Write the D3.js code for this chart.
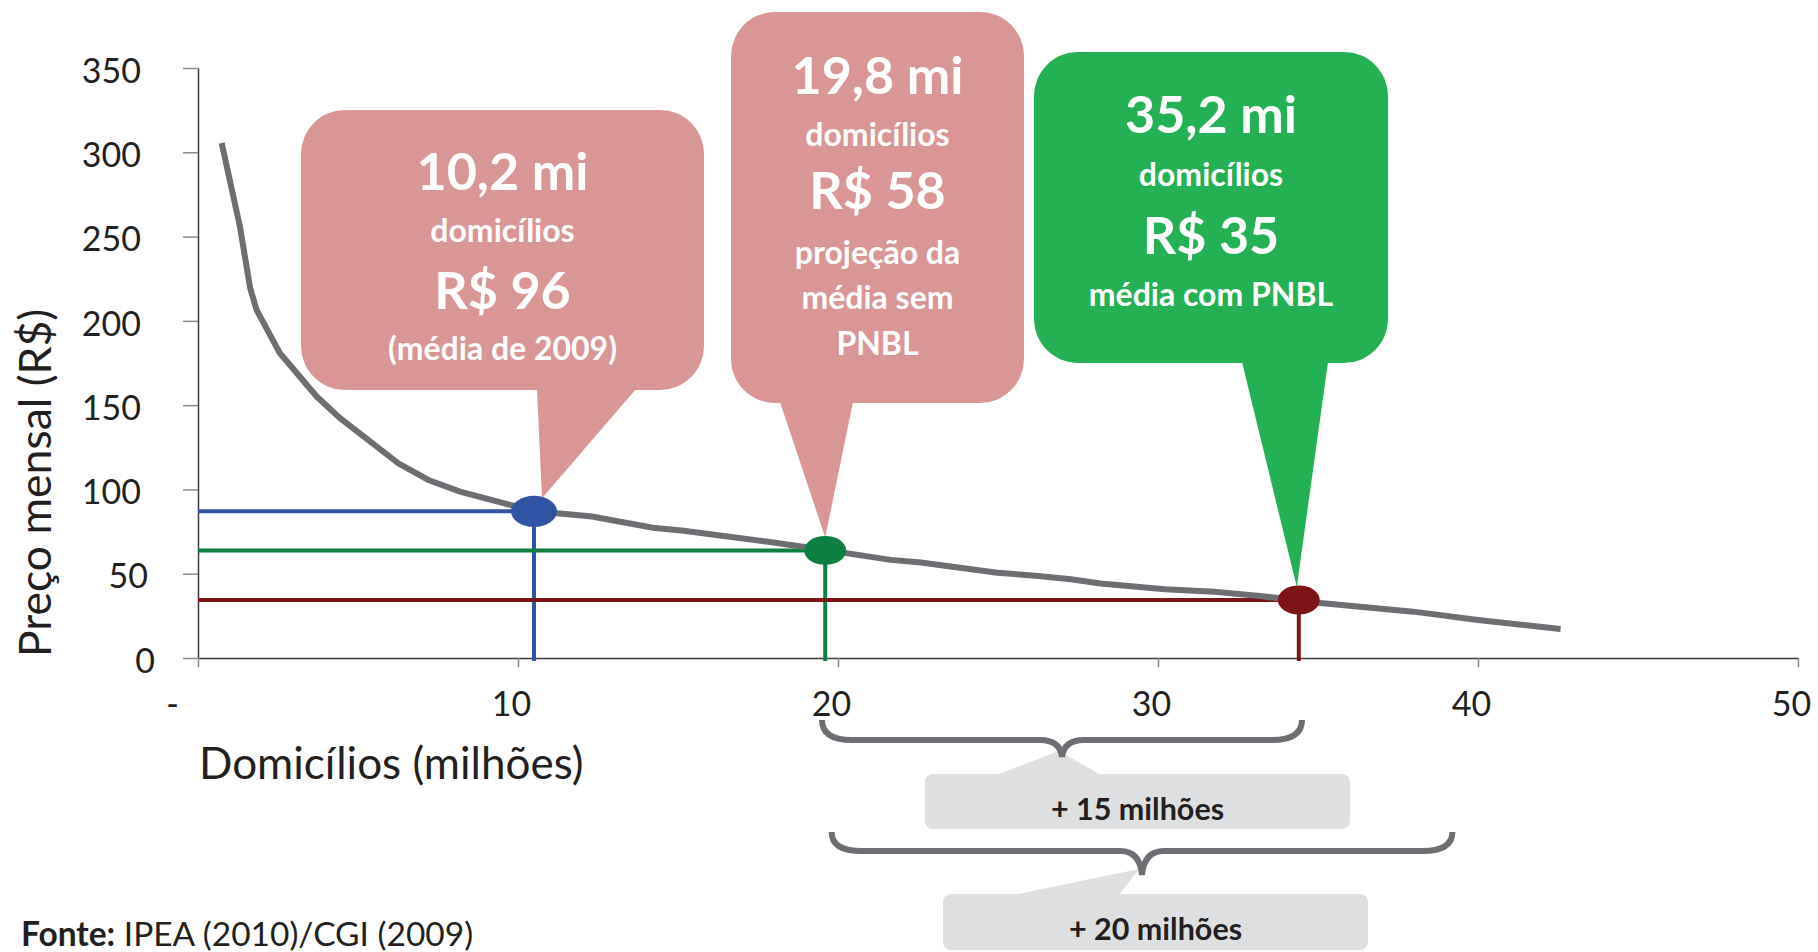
<!DOCTYPE html>
<html>
<head>
<meta charset="utf-8">
<script src="https://cdn.jsdelivr.net/npm/d3@7"></script>
<style>
  body { margin: 0; background: #fff; }
  text { font-family: Lato, "Open Sans", sans-serif; fill: #231f20; }
</style>
</head>
<body>
<div id="chart"></div>
<script>
const width = 1818;
const height = 952;

// demand curve: households (millions) vs monthly price (R$)
const households = [0.74, 1.31, 1.63, 1.83, 2.56, 3.71, 4.44, 6.26, 7.2, 8.19, 9.75, 10.48, 11.23, 12.31, 14.22, 15.18,
  17.81, 19.46, 21.64, 22.59, 24.98, 26.18, 27.28, 28.2, 30.21, 31.76, 33.19, 34.27, 34.99, 37.98, 40.0, 42.58];
const prices = [305.5, 256, 219.4, 206.5, 180.8, 155.1, 142.3, 115.5, 105.6, 98.7, 90.8, 87.8, 85.9, 83.9, 77.3, 75.5,
  69.0, 64.5, 58.2, 56.6, 50.6, 48.8, 46.7, 44.2, 40.8, 39.3, 36.8, 34.4, 32.8, 27.5, 22.6, 17.2];

// highlighted points
const markerX = [10.5, 19.6, 34.4];
const markerY = [87, 63.8, 34.4];

const xTicks = [0, 10, 20, 30, 40, 50];
const xTickLabels = ["-", "10", "20", "30", "40", "50"];
const yTicks = [0, 50, 100, 150, 200, 250, 300, 350];

const calloutLines = [
  ["10,2 mi", "domicílios", "R$ 96", "(média de 2009)"],
  ["19,8 mi", "domicílios", "R$ 58", "projeção da", "média sem", "PNBL"],
  ["35,2 mi", "domicílios", "R$ 35", "média com PNBL"]
];

const braceRanges = [[19.5, 34.5], [19.8, 39.2]];
const braceLabels = ["+ 15 milhões", "+ 20 milhões"];

// styles / layout
const markerColors = ["#2f54a3", "#0b8040", "#7f1418"];
const bubbleColors = ["#d99694", "#d99694", "#24b153"];
const bubbleBoxes = [
  { x: 301, y: 110, w: 403, h: 280, base: [537, 636], dx: 8, baselines: [190, 242, 309, 360] },
  { x: 731, y: 12, w: 293, h: 391, base: [780, 853], dx: 0, baselines: [94, 146, 209, 264, 309, 355] },
  { x: 1034, y: 52, w: 354, h: 311, base: [1242, 1328], dx: -2, baselines: [133, 186, 254, 306] }
];
const braceLevels = [{ top: 720, mid: 740, tip: 757 }, { top: 832, mid: 851, tip: 875 }];
const grayBoxes = [
  { x: 925, y: 774, w: 425, h: 55, base: [996, 1101] },
  { x: 943, y: 894, w: 425, h: 56, base: [1013, 1119] }
];

const x = d3.scaleLinear().domain([0, 50]).range([198, 1798]);
const y = d3.scaleLinear().domain([0, 350]).range([658, 68]);

const svg = d3.select("#chart")
    .append("svg")
    .attr("width", width)
    .attr("height", height);

svg.append("rect").attr("width", width).attr("height", height).attr("fill", "#fff");

// y axis
const yAxis = svg.append("g")
    .attr("transform", `translate(${x(0)},0)`)
    .call(d3.axisLeft(y).tickValues(yTicks).tickSize(15).tickSizeOuter(0).tickPadding(42));
yAxis.select(".domain").attr("stroke", "#3a3a3a").attr("stroke-width", 1.5);
yAxis.selectAll(".tick line").attr("stroke", "#8a8a8a").attr("stroke-width", 1.5);
yAxis.selectAll(".tick text")
    .attr("font-size", 34)
    .attr("font-family", "Lato")
    .attr("fill", "#231f20")
    .attr("dy", "0.42em")
    .attr("dx", d => (3 - String(d).length) * 7);

// x axis
const xAxis = svg.append("g")
    .attr("transform", `translate(0,${y(0)})`)
    .call(d3.axisBottom(x).tickValues(xTicks).tickSize(9).tickSizeOuter(0).tickPadding(25)
      .tickFormat((d, i) => xTickLabels[i]));
xAxis.select(".domain").attr("stroke", "#3a3a3a").attr("stroke-width", 1.5);
xAxis.selectAll(".tick line").attr("stroke", "#8a8a8a").attr("stroke-width", 1.5);
xAxis.selectAll(".tick text")
    .attr("font-size", 34)
    .attr("font-family", "Lato")
    .attr("fill", "#231f20")
    .attr("dx", d => d === 0 ? -26 : -7);

// axis titles
svg.append("text")
    .attr("transform", "translate(51,483) rotate(-90)")
    .attr("text-anchor", "middle")
    .attr("font-size", 44.5)
    .text("Preço mensal (R$)");

svg.append("text")
    .attr("x", 199)
    .attr("y", 779)
    .attr("font-size", 44)
    .text("Domicílios (milhões)");

// callout bubbles
bubbleBoxes.forEach((b, i) => {
  const tip = [x(markerX[i]) + b.dx, y(markerY[i]) - 13];
  const g = svg.append("g");
  g.append("rect")
      .attr("x", b.x).attr("y", b.y)
      .attr("width", b.w).attr("height", b.h)
      .attr("rx", 44).attr("ry", 44)
      .attr("fill", bubbleColors[i]);
  g.append("path")
      .attr("d", `M${b.base[0]},${b.y + b.h - 1}L${tip[0]},${tip[1]}L${b.base[1]},${b.y + b.h - 1}Z`)
      .attr("fill", bubbleColors[i]);
  calloutLines[i].forEach((line, j) => {
    const big = j === 0 || j === 2;
    g.append("text")
        .attr("x", b.x + b.w / 2)
        .attr("y", b.baselines[j])
        .attr("text-anchor", "middle")
        .attr("font-weight", "bold")
        .attr("font-size", big ? 52 : 32)
        .style("fill", "#fff")
        .text(line);
  });
});

// reference lines to the axes
markerX.forEach((mx, i) => {
  svg.append("line")
      .attr("x1", x(0)).attr("x2", x(mx))
      .attr("y1", y(markerY[i])).attr("y2", y(markerY[i]))
      .attr("stroke", markerColors[i]).attr("stroke-width", 4);
  svg.append("line")
      .attr("x1", x(mx)).attr("x2", x(mx))
      .attr("y1", y(markerY[i])).attr("y2", y(0) + 3)
      .attr("stroke", markerColors[i]).attr("stroke-width", 4);
});

// demand curve
const line = d3.line().x(d => x(d[0])).y(d => y(d[1]));
svg.append("path")
    .datum(d3.zip(households, prices))
    .attr("d", line)
    .attr("fill", "none")
    .attr("stroke", "#6d6e71")
    .attr("stroke-width", 6);

// markers
svg.selectAll(".marker")
    .data(markerX)
  .enter().append("ellipse")
    .attr("class", "marker")
    .attr("cx", d => x(d))
    .attr("cy", (d, i) => y(markerY[i]))
    .attr("rx", (d, i) => i === 0 ? 23 : 21)
    .attr("ry", (d, i) => i === 0 ? 15.5 : 14.5)
    .attr("fill", (d, i) => markerColors[i]);

// braces with gray labels
braceRanges.forEach((r, i) => {
  const lv = braceLevels[i];
  const x0 = x(r[0]), x1 = x(r[1]), xm = (x0 + x1) / 2;
  const gb = grayBoxes[i];

  svg.append("path")
      .attr("d", `M${gb.base[0]},${gb.y + 1}L${xm - 3},${lv.tip - 6}L${gb.base[1]},${gb.y + 1}Z`)
      .attr("fill", "#dedfe0");
  svg.append("rect")
      .attr("x", gb.x).attr("y", gb.y)
      .attr("width", gb.w).attr("height", gb.h)
      .attr("rx", 8).attr("ry", 8)
      .attr("fill", "#dedfe0");
  svg.append("text")
      .attr("x", gb.x + gb.w / 2)
      .attr("y", gb.y + 46)
      .attr("text-anchor", "middle")
      .attr("font-weight", "bold")
      .attr("font-size", 30.5)
      .text(braceLabels[i]);

  svg.append("path")
      .attr("d", `M${x0},${lv.top}Q${x0},${lv.mid} ${x0 + 30},${lv.mid}L${xm - 22},${lv.mid}` +
        `Q${xm - 2},${lv.mid} ${xm},${lv.tip}Q${xm + 2},${lv.mid} ${xm + 22},${lv.mid}` +
        `L${x1 - 30},${lv.mid}Q${x1},${lv.mid} ${x1},${lv.top}`)
      .attr("fill", "none")
      .attr("stroke", "#6d6e71")
      .attr("stroke-width", 6);
});

// source
svg.append("text")
    .attr("x", 21)
    .attr("y", 946)
    .attr("font-size", 33.5)
    .call(t => t.append("tspan").attr("font-weight", "bold").text("Fonte:"))
    .call(t => t.append("tspan").text(" IPEA (2010)/CGI (2009)"));
</script>
</body>
</html>
